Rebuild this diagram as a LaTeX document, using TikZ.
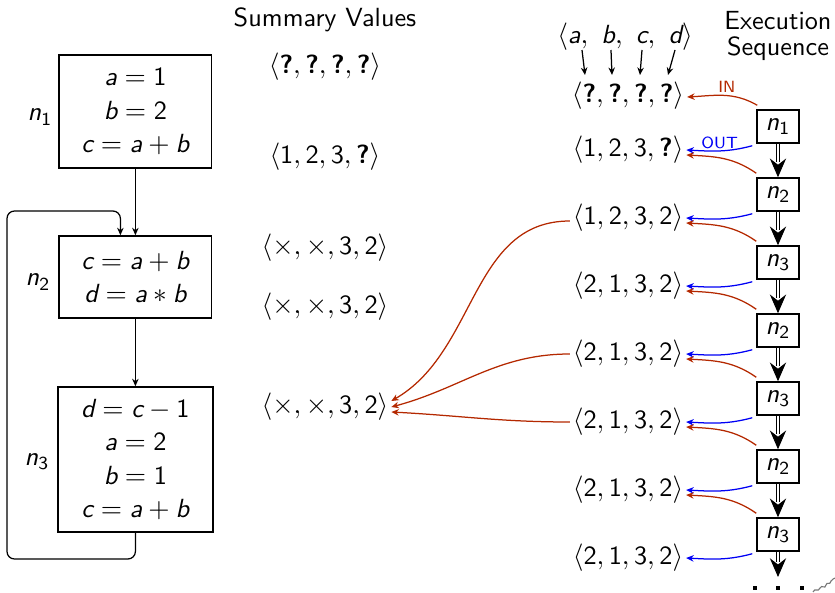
\documentclass[tikz,border=0pt]{standalone}
\usepackage{amsmath}
\usetikzlibrary{arrows.meta,calc}
\newcommand{\vi}[1]{\text{\sffamily\itshape #1}}
\newcommand{\dg}[1]{\text{\sffamily #1}}
\newcommand{\qm}{\text{\sffamily\bfseries ?}}
\definecolor{redc}{RGB}{180,40,0}
\definecolor{bluec}{RGB}{0,0,245}
\definecolor{squig}{RGB}{120,120,120}
\begin{document}
\begin{tikzpicture}[x=0.4pt,y=0.4pt,
  every node/.style={font=\sffamily\fontsize{10.5}{13.4}\selectfont},
  cfgbox/.style={draw, line width=0.6pt, minimum width=61pt, align=center, inner sep=0pt},
  ebox/.style={draw, line width=0.6pt, minimum width=16.8pt, minimum height=13.2pt, inner sep=0pt},
  tup/.style={inner sep=1pt},
  flow/.style={line width=0.5pt, -{Stealth[length=3pt,width=2.6pt]}},
  inarr/.style={draw=redc, line width=0.5pt, -{Stealth[length=3pt,width=2.6pt]}},
  outarr/.style={draw=bluec, line width=0.5pt, -{Stealth[length=3pt,width=2.6pt]}},
  dshaft/.style={double, double distance=1pt, line width=0.4pt, shorten >=6pt},
  dtip/.style={-{Stealth[length=7.5pt,width=6.5pt,inset=2.5pt]}, line width=0.4pt},
  tag/.style={font=\sffamily\fontsize{6.5}{7}\selectfont, inner sep=0pt},
]
\useasboundingbox (0,0) rectangle (835,-593);

% ---- CFG on the left ----
\node[cfgbox, minimum height=45.2pt] (b1) at (135.4,-111.5) {$\vi{a}=\dg{1}$\\$\vi{b}=\dg{2}$\\$\vi{c}=\vi{a}+\vi{b}$};
\node[cfgbox, minimum height=32.8pt] (b2) at (135.4,-277) {$\vi{c}=\vi{a}+\vi{b}$\\$\vi{d}=\vi{a}*\vi{b}$};
\node[cfgbox, minimum height=58pt, minimum width=62pt] (b3) at (135.4,-459.5) {$\vi{d}=\vi{c}-\dg{1}$\\$\vi{a}=\dg{2}$\\$\vi{b}=\dg{1}$\\$\vi{c}=\vi{a}+\vi{b}$};
\node (l1) at (40,-117) {$\vi{n}_{\dg{1}}$};
\node (l2) at (38,-282) {$\vi{n}_{\dg{2}}$};
\node (l3) at (37,-462) {$\vi{n}_{\dg{3}}$};
\draw[flow] (b1.south) -- (b2.north);
\draw[flow] (b2.south) -- (b3.north);
\draw[flow, rounded corners=3pt] (b3.south) |- (7,-559) -- (7,-211) -| ($(b2.north)+(-15,0)$);

% ---- Summary values ----
\node (st) at (325,-20) {Summary Values};
\node[tup] (s1) at (325,-67) {$\langle\qm,\qm,\qm,\qm\rangle$};
\node[tup] (s2) at (325,-157) {$\langle \dg{1},\dg{2},\dg{3},\qm\rangle$};
\node[tup] (s3) at (325,-248) {$\langle\times,\times,\dg{3},\dg{2}\rangle$};
\node[tup] (s4) at (325,-307) {$\langle\times,\times,\dg{3},\dg{2}\rangle$};
\node[tup] (s5) at (325,-407) {$\langle\times,\times,\dg{3},\dg{2}\rangle$};

% ---- Right tuples ----
\node[tup] (vars) at (625,-37) {$\langle \vi{a},\ \vi{b},\ \vi{c},\ \vi{d}\rangle$};
\node[tup] (r0) at (628,-96) {$\langle\qm,\qm,\qm,\qm\rangle$};
\node[tup] (r1) at (628,-150) {$\langle \dg{1},\dg{2},\dg{3},\qm\rangle$};
\node[tup] (r2) at (628,-218) {$\langle \dg{1},\dg{2},\dg{3},\dg{2}\rangle$};
\node[tup] (r3) at (628,-286) {$\langle \dg{2},\dg{1},\dg{3},\dg{2}\rangle$};
\node[tup] (r4) at (628,-354) {$\langle \dg{2},\dg{1},\dg{3},\dg{2}\rangle$};
\node[tup] (r5) at (628,-422) {$\langle \dg{2},\dg{1},\dg{3},\dg{2}\rangle$};
\node[tup] (r6) at (628,-490) {$\langle \dg{2},\dg{1},\dg{3},\dg{2}\rangle$};
\node[tup] (r7) at (628,-558) {$\langle \dg{2},\dg{1},\dg{3},\dg{2}\rangle$};

\coordinate (va) at (582,-50); \coordinate (qa) at (585,-75);
\coordinate (vb) at (611,-50); \coordinate (qb) at (612,-75);
\coordinate (vc) at (642,-50); \coordinate (qc) at (640,-75);
\coordinate (vd) at (675,-50); \coordinate (qd) at (668,-75);
\draw[flow] (va) -- (qa);
\draw[flow] (vb) -- (qb);
\draw[flow] (vc) -- (qc);
\draw[flow] (vd) -- (qd);

% ---- Execution sequence ----
\node[align=center, font=\sffamily\fontsize{10.5}{10.4}\selectfont] (et) at (778,-36) {Execution\\Sequence};
\node[ebox] (e1) at (778,-126.5) {$\vi{n}_{\dg{1}}$};
\node[ebox] (e2) at (778,-194.5) {$\vi{n}_{\dg{2}}$};
\node[ebox] (e3) at (778,-262.5) {$\vi{n}_{\dg{3}}$};
\node[ebox] (e4) at (778,-330.5) {$\vi{n}_{\dg{2}}$};
\node[ebox] (e5) at (778,-398.5) {$\vi{n}_{\dg{3}}$};
\node[ebox] (e6) at (778,-466.5) {$\vi{n}_{\dg{2}}$};
\node[ebox] (e7) at (778,-534.5) {$\vi{n}_{\dg{3}}$};
\coordinate (eend) at (778,-577);

\foreach \a/\b in {e1/e2,e2/e3,e3/e4,e4/e5,e5/e6,e6/e7,e7/eend}{
  \draw[dshaft] (\a.south) -- (\b.north);
  \draw[dtip] ($(\b.north)+(0,12)$) -- (\b.north);
}
\foreach \xx in {755,778,802}{
  \fill (\xx-2.4,-590.4) rectangle (\xx+2.4,-585.6);
}
\draw[squig, line width=0.45pt] (813,-592) .. controls (815,-587) and (818,-593) .. (820,-588)
  .. controls (822,-584) and (825,-590) .. (826,-585)
  .. controls (827,-581) and (830,-586) .. (831,-581)
  .. controls (832,-578) and (834,-580) .. (835,-578);

% IN / OUT arrows
\draw[inarr] ($(e1.north west)+(1,4)$) to[out=150,in=3] node[tag, text=redc, above, pos=0.45, yshift=1pt] {IN} ($(r0.east)+(0,-1)$);
\draw[outarr] ($(e1.south west)+(-4,-2)$) to[out=195,in=-3] node[tag, text=bluec, above, pos=0.5, yshift=0.5pt] {OUT} (r1.east);
\draw[inarr] ($(e2.north west)+(0,4)$) to[out=145,in=-3] ($(r1.east)+(0,-5)$);
\draw[outarr] ($(e2.south west)+(-4,-2)$) to[out=195,in=-3] (r2.east);
\draw[inarr] ($(e3.north west)+(0,4)$) to[out=145,in=-3] ($(r2.east)+(0,-5)$);
\draw[outarr] ($(e3.south west)+(-4,-2)$) to[out=195,in=-3] (r3.east);
\draw[inarr] ($(e4.north west)+(0,4)$) to[out=145,in=-3] ($(r3.east)+(0,-5)$);
\draw[outarr] ($(e4.south west)+(-4,-2)$) to[out=195,in=-3] (r4.east);
\draw[inarr] ($(e5.north west)+(0,4)$) to[out=145,in=-3] ($(r4.east)+(0,-5)$);
\draw[outarr] ($(e5.south west)+(-4,-2)$) to[out=195,in=-3] (r5.east);
\draw[inarr] ($(e6.north west)+(0,4)$) to[out=145,in=-3] ($(r5.east)+(0,-5)$);
\draw[outarr] ($(e6.south west)+(-4,-2)$) to[out=195,in=-3] (r6.east);
\draw[inarr] ($(e7.north west)+(0,4)$) to[out=145,in=-3] ($(r6.east)+(0,-5)$);
\draw[outarr] ($(e7.south west)+(-4,-2)$) to[out=195,in=-3] (r7.east);

% long arrows to the summary
\draw[inarr] ($(r2.west)+(0,-3)$) to[out=180,in=30] ($(s5.east)+(0,6)$);
\draw[inarr] (r4.west) to[out=180,in=15] (s5.east);
\draw[inarr] (r5.west) to[out=180,in=-3] ($(s5.east)+(0,-5)$);
\end{tikzpicture}
\end{document}
